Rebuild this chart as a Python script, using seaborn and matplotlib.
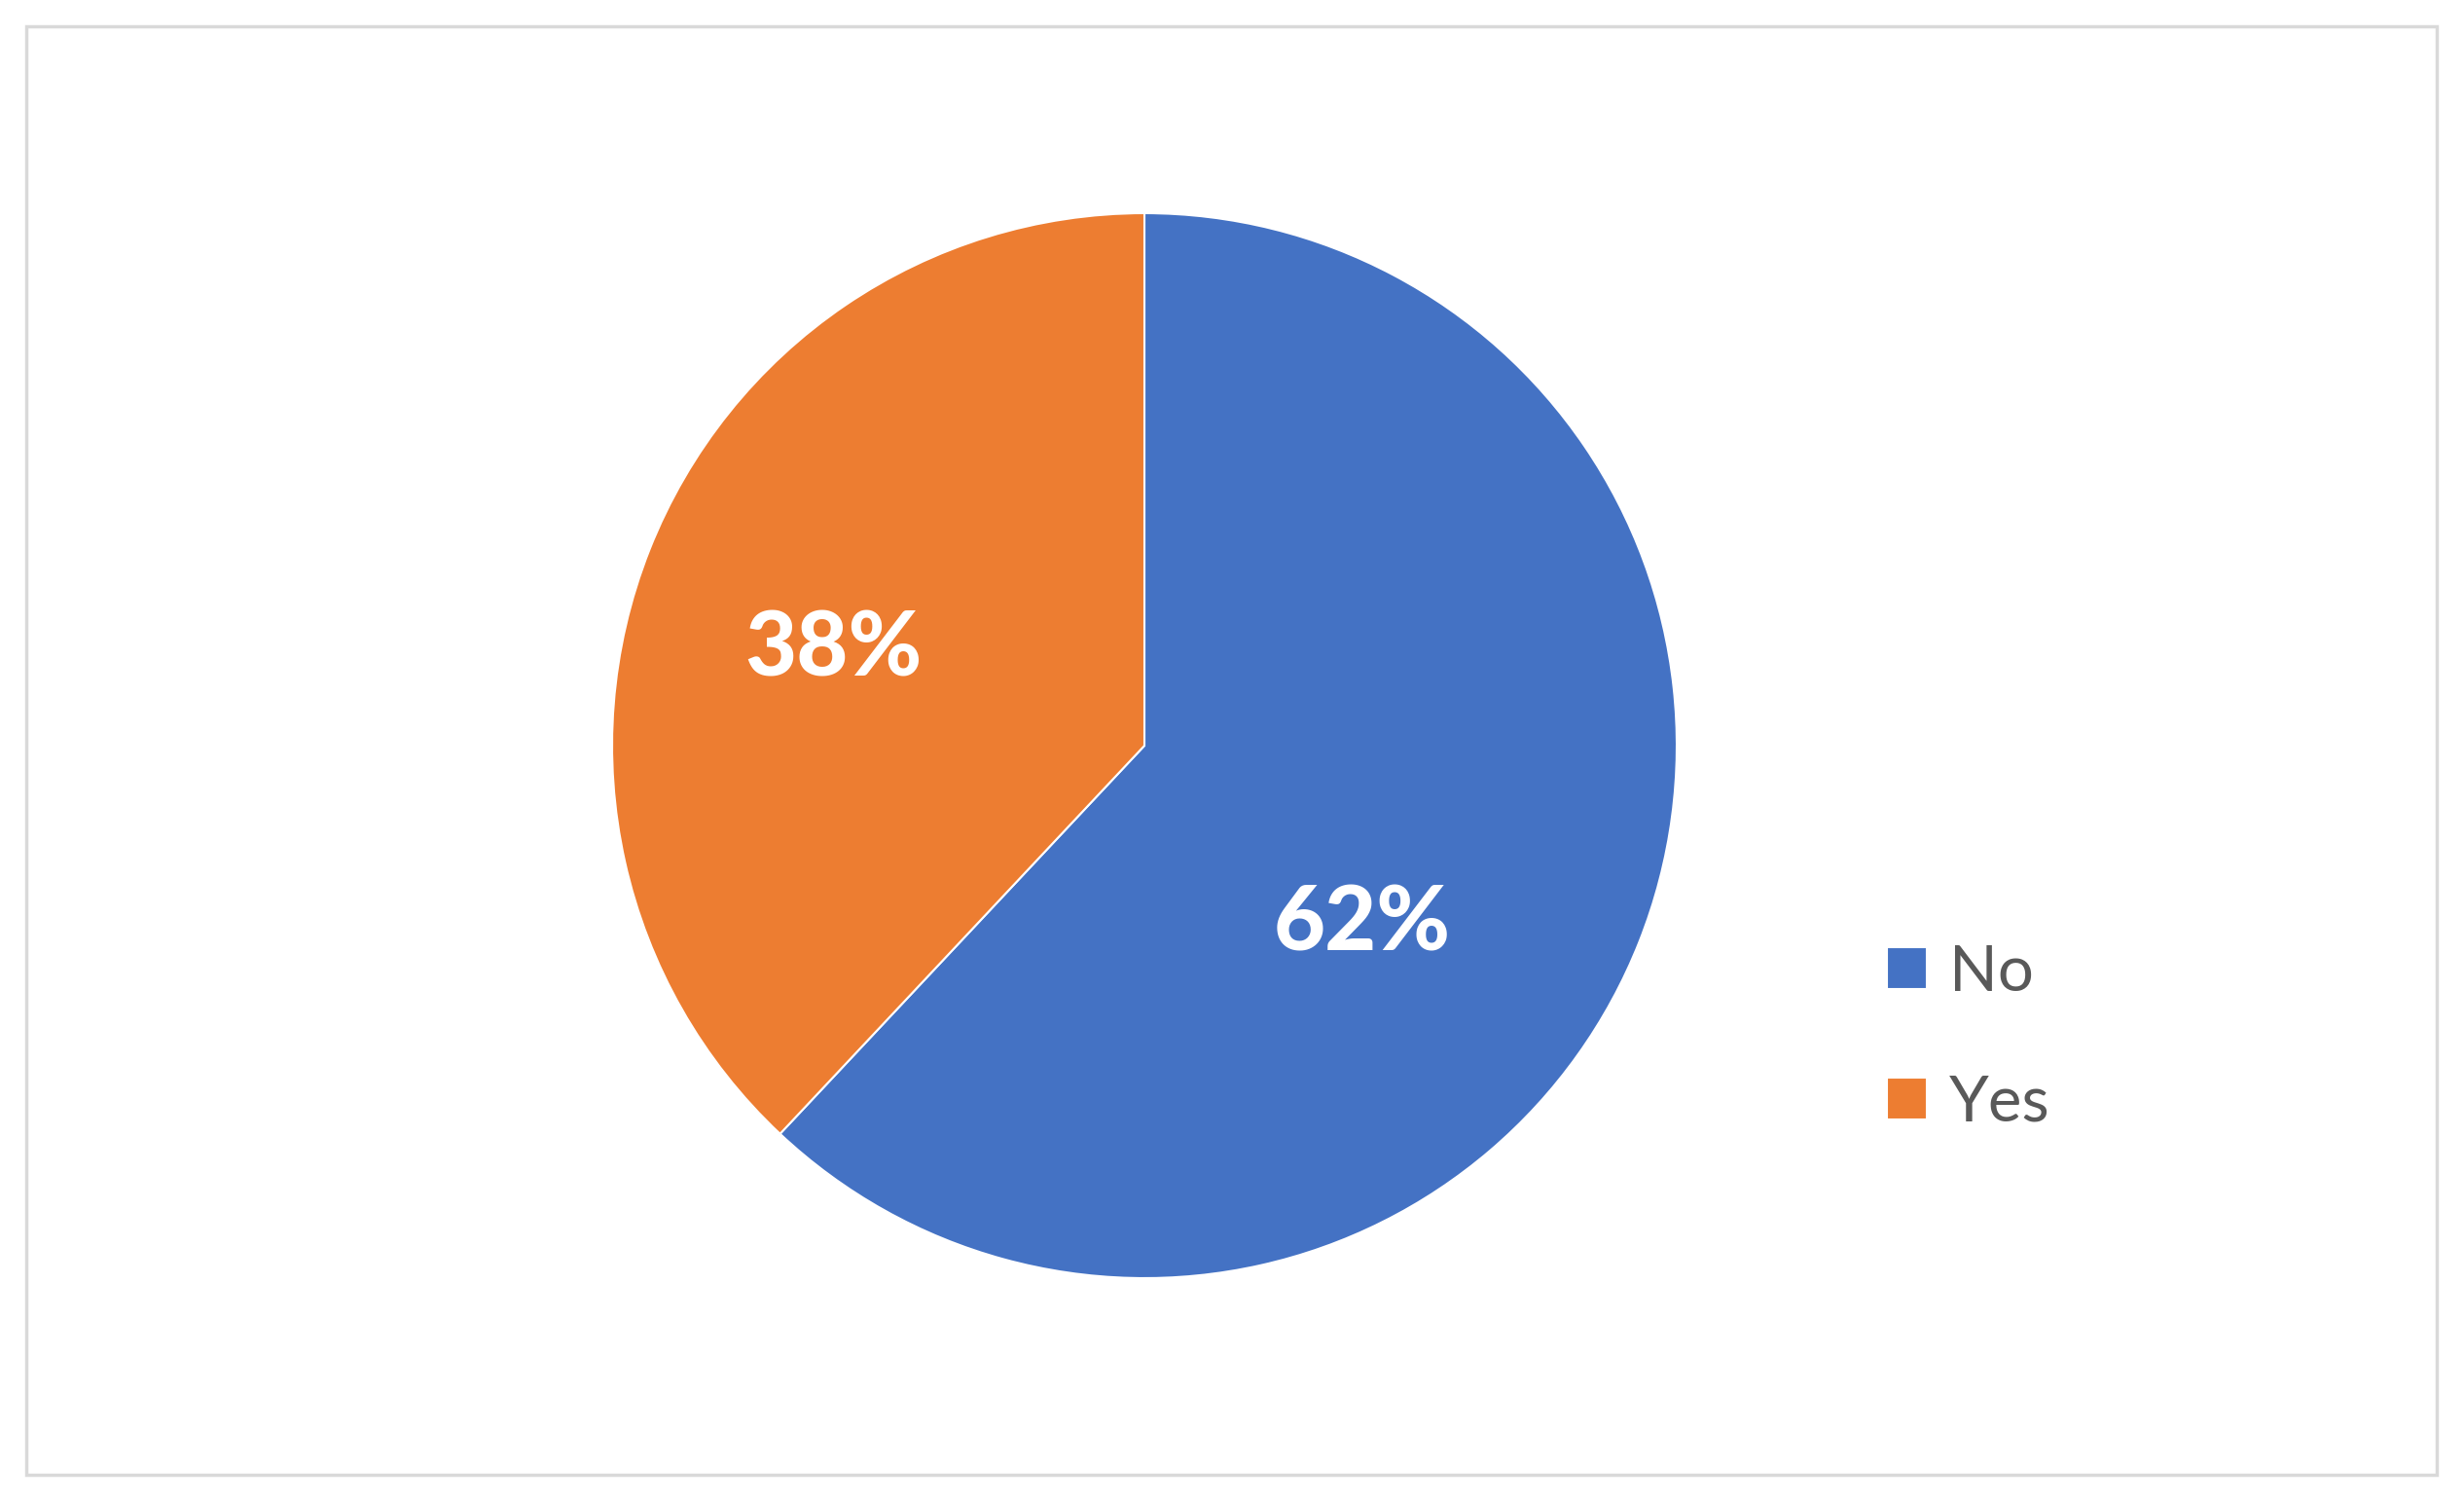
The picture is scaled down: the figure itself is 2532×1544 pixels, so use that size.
import numpy as np
import seaborn as sns
import matplotlib.pyplot as plt
from matplotlib.patches import Rectangle

# ========== DATA ==========
labels = ["No", "Yes"]
shares = [62, 38]
colors = ["#4472C4", "#ED7D31"]

# ========== PLOT ==========
sns.set_theme(style="white")
plt.rcParams['font.family'] = ['Lato', 'DejaVu Sans']

W, H = 2532, 1544
fig = plt.figure(figsize=(W / 100, H / 100), dpi=100)

# pie centred near (1176, 766) px, radius ~547 px
cx, cy, r = 1176, 766, 547
ax = fig.add_axes([(cx - r) / W, (H - cy - r) / H, 2 * r / W, 2 * r / H])

wedges, texts, autotexts = ax.pie(
    shares,
    colors=sns.color_palette(colors),
    startangle=90,
    counterclock=False,
    autopct="%1.0f%%",
    pctdistance=0.6,
    radius=1,
    wedgeprops=dict(linewidth=1.5, edgecolor="white"),
    textprops=dict(color="white", fontsize=66, fontweight="black"),
)
ax.set_xlim(-1, 1)
ax.set_ylim(-1, 1)
ax.set_aspect("equal")
ax.axis("off")

# excel-style "best fit" label spots
label_pos = [(0.53, -39.5), (0.61, 163)]
for t, (d, ang) in zip(autotexts, label_pos):
    t.set_position((d * np.cos(np.radians(ang)), d * np.sin(np.radians(ang))))

leg = fig.legend(
    wedges, labels,
    loc="upper left",
    bbox_to_anchor=(1906 / W, 1 - 937 / H),
    frameon=False,
    fontsize=47,
    handlelength=0.64,
    handleheight=0.64,
    handletextpad=0.35,
    labelspacing=1.15,
    borderpad=0,
)
for t in leg.get_texts():
    t.set_color("#595959")

# light grey chart-area border
fig.patches.append(Rectangle((27 / W, 1 - 1515 / H), 2477 / W, 1488 / H,
                             transform=fig.transFigure, fill=False,
                             edgecolor="#D9D9D9", linewidth=2.5))

plt.savefig("out.png", dpi=100)
